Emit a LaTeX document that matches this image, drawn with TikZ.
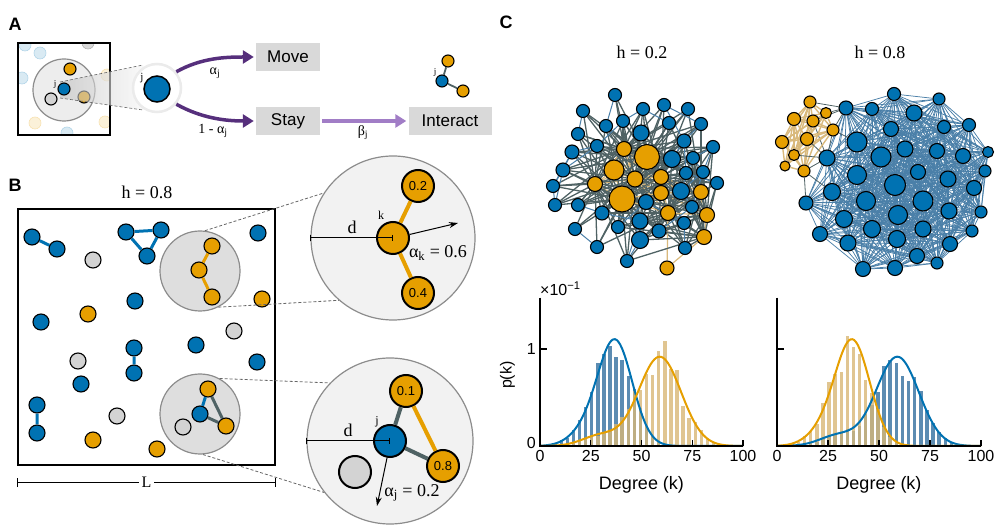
\documentclass[tikz,border=0pt]{standalone}
\usepackage{fontspec}
\setmainfont{Liberation Serif}
\setsansfont{Liberation Sans}
\usetikzlibrary{positioning,arrows.meta}

\definecolor{cblue}{HTML}{0072B2}
\definecolor{corange}{HTML}{E69F00}
\definecolor{cgray}{HTML}{D3D3D3}
\definecolor{zonefill}{HTML}{DEDEDE}
\definecolor{zonedraw}{HTML}{8C8C8C}
\definecolor{lensfill}{HTML}{F2F2F2}
\definecolor{boxfill}{HTML}{D9D9D9}
\definecolor{darkpurple}{HTML}{562F7C}
\definecolor{lightpurple}{HTML}{A17DC6}
\definecolor{linkblue}{HTML}{4A7FA8}
\definecolor{linkslate}{HTML}{4F6264}
\definecolor{linktan}{HTML}{D9B97C}
\definecolor{barblue}{HTML}{4A80AA}
\definecolor{bartan}{HTML}{D8B676}

\pgfdeclarelayer{links}
\pgfsetlayers{links,main}

% networks of panel C: name/x/y/diameter
\def\lowblue{1/615/95/13,2/583/111/13,3/643/109/13,4/664/105/13,5/688/109/13,
  6/623/121/13,7/606/126/13,8/641/133/16,9/669/123/13,10/701/124/13,
  11/578/134/13,12/597/146/13,13/684/141/14,14/713/147/13,15/572/152/14,
  16/672/159/17,17/693/158/13,18/563/170/14,19/686/173/13,20/703/172/13,
  21/553/186/13,22/717/183/13,23/681/191/17,24/555/205/13,25/578/205/13,
  26/692/207/13,27/646/202/15,28/602/213/14,29/575/229/13,30/618/227/13,
  31/640/221/16,32/659/231/14,33/684/223/13,34/640/240/17,35/597/247/13,
  36/685/248/13,37/627/261/13}
\def\loworange{1/624/149/15,2/647/157/25,3/614/170/20,4/595/184/15,5/635/179/16,
  6/661/177/15,7/622/199/26,8/661/193/15,9/701/192/15,10/668/213/15,
  11/707/215/15,12/704/237/15,13/667/268/14}
\def\highblue{1/894/94/13,2/846/108/14,3/872/109/13,4/914/113/16,5/939/99/12,
  6/891/129/15,7/944/127/13,8/969/125/13,9/857/142/20,10/905/149/16,
  11/881/157/20,12/827/158/16,13/937/151/15,14/963/156/15,15/988/152/11,
  16/985/171/12,17/918/172/15,18/857/175/19,19/895/185/21,20/948/179/16,
  21/974/188/15,22/832/192/17,23/866/201/19,24/923/201/20,25/806/203/14,
  26/981/212/12,27/949/211/16,28/898/215/19,29/844/219/17,30/872/229/17,
  31/923/229/16,32/972/231/12,33/820/234/15,34/848/243/16,35/897/239/17,
  36/950/244/15,37/917/256/15,38/937/263/12,39/863/269/15,40/895/268/15}
\def\highorange{1/810/102/12,2/794/119/13,3/813/121/12,4/826/113/11,5/833/130/12,
  6/807/139/13,7/782/142/13,8/794/155/11,9/785/166/10,10/804/171/12}

\tikzset{
  declare function={
    lowpeak(\k)=1.08*exp(-(\k-37)*(\k-37)/144.5)+0.12*exp(-(\k-22)*(\k-22)/128);
    highpeak(\k)=0.92*exp(-(\k-59)*(\k-59)/220)+0.11*exp(-(\k-30)*(\k-30)/162);
  },
  agent/.style={circle,draw=black,line width=1.1pt,inner sep=0pt,minimum size=#1},
  agent/.default=16,
  bagent/.style={agent=#1,fill=cblue},
  bagent/.default=16,
  oagent/.style={agent=#1,fill=corange},
  oagent/.default=16,
  gagent/.style={agent=#1,fill=cgray},
  gagent/.default=16,
  ghost/.style={circle,inner sep=0pt,minimum size=12,fill=#1!15,draw=#1!30,line width=.6pt},
  big/.style={line width=2pt,font=\sffamily\fontsize{13}{13}\selectfont},
  panel/.style={font=\sffamily\bfseries\fontsize{18}{18}\selectfont},
  title/.style={font=\fontsize{18}{18}\selectfont,inner sep=1pt},
  small/.style={font=\fontsize{11}{11}\selectfont,inner sep=0pt},
  arlbl/.style={font=\fontsize{14}{14}\selectfont,inner sep=1pt},
  actbox/.style={fill=boxfill,minimum height=28,inner sep=0pt,font=\sffamily\fontsize{17}{17}\selectfont},
  ticklbl/.style={font=\sffamily\fontsize{16}{16}\selectfont,inner sep=1pt},
  zone/.style={circle,draw=zonedraw,fill=zonefill,line width=1.2pt,minimum size=80,inner sep=0pt},
  lens/.style={circle,draw=zonedraw,fill=lensfill,line width=1.2pt,minimum size=#1,inner sep=0pt},
  zoomline/.style={draw=black!60,line width=.8pt,dash pattern=on 3pt off 2pt},
  movearrow/.style={draw=darkpurple,line width=3.5pt,-{Triangle[length=11pt,width=13pt]}},
  interarrow/.style={draw=lightpurple,line width=3.5pt,-{Triangle[length=11pt,width=13pt]}},
  bluelink/.style={draw=cblue,line width=3pt},
  orangelink/.style={draw=corange,line width=3pt},
  slatelink/.style={draw=linkslate,line width=3pt},
  dbar/.style={line width=1pt,{Bar[width=6pt]}-{Bar[width=6pt]}},
  heading/.style={line width=1pt,-{Stealth[length=9pt,width=6pt]}}
}

\begin{document}
\begin{tikzpicture}[x=1pt,y=-1pt]
\useasboundingbox (0,0) rectangle (997,526);

% ---- A ----
\node[panel] at (15,24) {A};
\begin{scope}
  \clip (18,43) rectangle (110,135);
  \foreach \xa/\ya/\ca in {25/45/cblue,40/53/cblue,88/43/black,22/78/cblue,107/75/corange,35/123/corange,67/133/cblue,105/122/corange}
    \node[ghost=\ca] at (\xa,\ya) {};
\end{scope}
\node[draw,line width=1.2pt,minimum width=92,minimum height=92,inner sep=0pt] (Abox) at (64,89) {};
\node[circle,draw=zonedraw,fill=black!7,line width=1.2pt,minimum size=62,inner sep=0pt] (Azone) at (64,90) {};
\node[oagent=12] (Ao1) at (70,69) {};
\node[gagent=12] (Ag) at (51,99) {};
\node[oagent=12] (Ao2) at (84,97) {};
\coordinate (Ac1) at (60,82);
\coordinate (Ac2) at (143,65);
\coordinate (Ac3) at (143,110);
\coordinate (Ac4) at (60,98);
\shade[left color=black!25,right color=black!4,opacity=.6] (Ac1) -- (Ac2) -- (Ac3) -- (Ac4) -- cycle;
\draw[zoomline,line width=.6pt] (Ac1) -- (Ac2) (Ac4) -- (Ac3);
\node[bagent=12] (Aj) at (64,89) {};
\node[small,font=\fontsize{9}{9}\selectfont] at (55,84) {j};
\node[circle,fill=white,draw=black!8,line width=2.5pt,minimum size=48,inner sep=0pt] (Alens) at (157,88) {};
\node[bagent=26,line width=1.5pt] (Ajbig) at (157,89) {};
\node[small] at (142,78) {j};

\node[actbox,minimum width=64] (Move) at (288,57) {Move};
\node[actbox,minimum width=64] (Stay) at (288,121) {Stay};
\node[actbox,minimum width=83] (Interact) at (450,121) {Interact};
\draw[movearrow,shorten >=2pt] (Alens.40) .. controls +(25,-14) and +(-30,0) .. (Move.west);
\draw[movearrow,shorten >=2pt] (Alens.-40) .. controls +(25,14) and +(-30,0) .. (Stay.west);
\draw[interarrow,shorten <=2pt,shorten >=2pt] (Stay.east) -- (Interact.west);
\node[arlbl] at (215,73) {α\textsubscript{j}};
\node[arlbl] at (213,131) {1 - α\textsubscript{j}};
\node[arlbl] at (363,133) {β\textsubscript{j}};

\node[oagent=12] (Io1) at (448,61) {};
\node[bagent=12] (Ij) at (442,81) {};
\node[oagent=12] (Io2) at (463,91) {};
\draw[linkslate,line width=1.8pt] (Io1) -- (Ij) -- (Io2);
\node[small,font=\fontsize{9}{9}\selectfont] at (435,72) {j};

% ---- B ----
\node[panel] at (15,185) {B};
\node[title] at (147,192) {h = 0.8};
\node[draw,line width=1.2pt,minimum width=257,minimum height=256,inner sep=0pt] (Bbox) at (146.5,337) {};
\node[zone] (Bz1) at (200,271) {};
\node[zone] (Bz2) at (200,414) {};
\foreach \xa/\ya in {258/233,135/301,41/322,196/345,257/362,81/384}
  \node[bagent] at (\xa,\ya) {};
\foreach \xa/\ya in {262/299,88/314,93/440,157/449}
  \node[oagent] at (\xa,\ya) {};
\foreach \xa/\ya in {93/260,234/331,78/361,117/416,183/427}
  \node[gagent] at (\xa,\ya) {};
\node[bagent] (b1) at (32,237) {};
\node[bagent] (b2) at (57,249) {};
\node[bagent] (b3) at (126,232) {};
\node[bagent] (b4) at (161,230) {};
\node[bagent] (b5) at (147,256) {};
\node[bagent] (b6) at (134,348) {};
\node[bagent] (b7) at (134,373) {};
\node[bagent] (b8) at (37,405) {};
\node[bagent] (b9) at (37,433) {};
\node[oagent] (o1) at (212,246) {};
\node[oagent] (o2) at (199,270) {};
\node[oagent] (o3) at (212,297) {};
\node[bagent] (b10) at (200,414) {};
\node[oagent] (o4) at (208,389) {};
\node[oagent] (o5) at (226,426) {};
\draw[bluelink] (b1) -- (b2) (b3) -- (b4) (b4) -- (b5) (b5) -- (b3) (b6) -- (b7) (b8) -- (b9) (b10) -- (o4);
\draw[orangelink] (o1) -- (o2) (o2) -- (o3);
\draw[slatelink] (o4) -- (o5) (o5) -- (b10);
\draw[line width=1pt,{Bar[width=9pt]}-{Bar[width=9pt]}] ([yshift=-17pt]Bbox.south west) -- ([yshift=-17pt]Bbox.south east)
  node[midway,fill=white,title,font=\fontsize{16}{16}\selectfont,inner sep=3pt] {L};

% zoomed neighbourhoods
\node[lens=164] (Bl1) at (393,238) {};
\node[lens=166] (Bl2) at (390,441) {};
\draw[zoomline] (Bz1.83) -- (Bl1.147) (Bz1.-63) -- (Bl1.229);
\draw[zoomline] (Bz2.61) -- (Bl2.136) (Bz2.-86) -- (Bl2.218);

\node[oagent=32,big] (k) at (393,238) {};
\node[oagent=32,big] (k2) at (418,186) {0.2};
\node[oagent=32,big] (k4) at (418,293) {0.4};
\draw[orangelink,line width=4pt] (k2) -- (k) (k) -- (k4);
\draw[dbar] (Bl1.west) -- (k.center);
\node[title] at (352,227) {d};
\node[small,font=\fontsize{12}{12}\selectfont] at (381,215) {k};
\coordinate (kgo) at (458,223);
\draw[heading] (k.12) -- (kgo);
\node[title] at (438,253) {α\textsubscript{k} = 0.6};

\node[bagent=32,big] (j) at (390,441) {};
\node[oagent=32,big] (j1) at (406,391) {0.1};
\node[oagent=32,big] (j8) at (443,466) {0.8};
\node[gagent=32,big] (jg) at (355,472) {};
\draw[slatelink,line width=4pt] (j) -- (j1) (j) -- (j8);
\draw[orangelink,line width=4pt] (j1) -- (j8);
\draw[dbar] (Bl2.west) -- (j.center);
\node[title] at (348,430) {d};
\node[small,font=\fontsize{12}{12}\selectfont] at (377,422) {j};
\coordinate (jgo) at (377,506);
\draw[heading] (j.-100) -- (jgo);
\node[title] at (412,493) {α\textsubscript{j} = 0.2};

% ---- C ----
\node[panel] at (506,22) {C};
\node[title] at (642,52) {h = 0.2};
\node[title] at (880,52) {h = 0.8};

% network h = 0.2
\foreach \n/\xa/\ya/\da in \lowblue \node[bagent=\da] (lb\n) at (\xa,\ya) {};
\foreach \n/\xa/\ya/\da in \loworange \node[oagent=\da] (lo\n) at (\xa,\ya) {};
\begin{pgfonlayer}{links}
  \foreach \n/\xa/\ya/\da in \loworange {
    \foreach \m/\xb/\yb/\db in \lowblue {
      \pgfmathtruncatemacro\ok{(veclen((\xa-\xb)/100,(\ya-\yb)/100)<0.9)&&(mod(3*\n+5*\m,5)<4)}
      \ifnum\ok=1 \draw[linkslate,line width=1.3pt] (lo\n) -- (lb\m); \fi
    }
    \foreach \m/\xb/\yb/\db in \loworange {
      \pgfmathtruncatemacro\ok{(\n<\m)&&(veclen((\xa-\xb)/100,(\ya-\yb)/100)<0.6)}
      \ifnum\ok=1 \draw[linktan,line width=1.2pt] (lo\n) -- (lo\m); \fi
    }
  }
  \foreach \n/\xa/\ya/\da in \lowblue {
    \foreach \m/\xb/\yb/\db in \lowblue {
      \pgfmathtruncatemacro\ok{(\n<\m)&&(veclen((\xa-\xb)/100,(\ya-\yb)/100)<0.45)&&(mod(\n+2*\m,3)==0)}
      \ifnum\ok=1 \draw[linkblue,line width=1pt] (lb\n) -- (lb\m); \fi
    }
  }
\end{pgfonlayer}

% network h = 0.8
\foreach \n/\xa/\ya/\da in \highblue \node[bagent=\da] (hb\n) at (\xa,\ya) {};
\foreach \n/\xa/\ya/\da in \highorange \node[oagent=\da] (ho\n) at (\xa,\ya) {};
\begin{pgfonlayer}{links}
  \foreach \n/\xa/\ya/\da in \highblue {
    \foreach \m/\xb/\yb/\db in \highblue {
      \pgfmathtruncatemacro\ok{(\n<\m)&&(veclen((\xa-\xb)/100,(\ya-\yb)/100)<1.3)}
      \ifnum\ok=1 \draw[linkblue,line width=.75pt] (hb\n) -- (hb\m); \fi
    }
  }
  \foreach \n/\xa/\ya/\da in \highorange {
    \foreach \m/\xb/\yb/\db in \highorange {
      \pgfmathtruncatemacro\ok{\n<\m}
      \ifnum\ok=1 \draw[linktan,line width=1.4pt] (ho\n) -- (ho\m); \fi
    }
    \foreach \m/\xb/\yb/\db in \highblue {
      \pgfmathtruncatemacro\ok{veclen((\xa-\xb)/100,(\ya-\yb)/100)<0.4}
      \ifnum\ok=1 \draw[linkslate,line width=.8pt] (ho\n) -- (hb\m); \fi
    }
  }
\end{pgfonlayer}

% degree distributions
\pgfmathsetseed{7}
\begin{scope}[shift={(540,446)},x=2.03pt,y=97pt]
  \foreach \i in {0,...,32} {
    \pgfmathsetmacro\kk{1.5+3*\i}
    \pgfmathsetmacro\hb{lowpeak(\kk)*(1+0.22*rand)}
    \pgfmathsetmacro\ht{highpeak(\kk)*(1+0.22*rand)}
    \fill[barblue,opacity=.9] (\kk-0.85,0) rectangle (\kk+0.85,\hb);
    \fill[bartan,opacity=.8] (\kk-0.85,0) rectangle (\kk+0.85,\ht);
  }
  \draw[cblue,line width=2pt] plot[domain=0:100,samples=120,smooth] (\x,{lowpeak(\x)});
  \draw[corange,line width=2pt] plot[domain=0:100,samples=120,smooth] (\x,{highpeak(\x)});
  \draw[line width=1.3pt] (0,1.53) -- (0,0) -- (100,0);
  \foreach \t in {25,50,75,100} \draw[line width=1.3pt] (\t,0) -- (\t,0.06);
  \draw[line width=1.3pt] (0,1) -- (3.4,1);
  \foreach \t in {0,25,50,75,100} \node[ticklbl,below=3pt] at (\t,0) {\t};
  \node[ticklbl,left=3pt] at (0,0.03) {0};
  \node[ticklbl,left=3pt] at (0,1) {1};
  \node[ticklbl,anchor=base west,inner sep=0pt] at (0,1.55) {×10\textsuperscript{−1}};
  \node[ticklbl,rotate=90] at (-16,0.73) {p(k)};
  \node[ticklbl,font=\sffamily\fontsize{18}{18}\selectfont] at (50,-0.4) {Degree (k)};
\end{scope}
\begin{scope}[shift={(777,446)},x=2.04pt,y=97pt]
  \foreach \i in {0,...,32} {
    \pgfmathsetmacro\kk{1.5+3*\i}
    \pgfmathsetmacro\hb{highpeak(\kk)*(1+0.22*rand)}
    \pgfmathsetmacro\ht{lowpeak(\kk)*(1+0.22*rand)}
    \fill[barblue,opacity=.9] (\kk-0.85,0) rectangle (\kk+0.85,\hb);
    \fill[bartan,opacity=.8] (\kk-0.85,0) rectangle (\kk+0.85,\ht);
  }
  \draw[cblue,line width=2pt] plot[domain=0:100,samples=120,smooth] (\x,{highpeak(\x)});
  \draw[corange,line width=2pt] plot[domain=0:100,samples=120,smooth] (\x,{lowpeak(\x)});
  \draw[line width=1.3pt] (0,1.53) -- (0,0) -- (100,0);
  \foreach \t in {25,50,75,100} \draw[line width=1.3pt] (\t,0) -- (\t,0.06);
  \draw[line width=1.3pt] (0,1) -- (3.4,1);
  \foreach \t in {0,25,50,75,100} \node[ticklbl,below=3pt] at (\t,0) {\t};
  \node[ticklbl,font=\sffamily\fontsize{18}{18}\selectfont] at (50,-0.4) {Degree (k)};
\end{scope}
\end{tikzpicture}
\end{document}
